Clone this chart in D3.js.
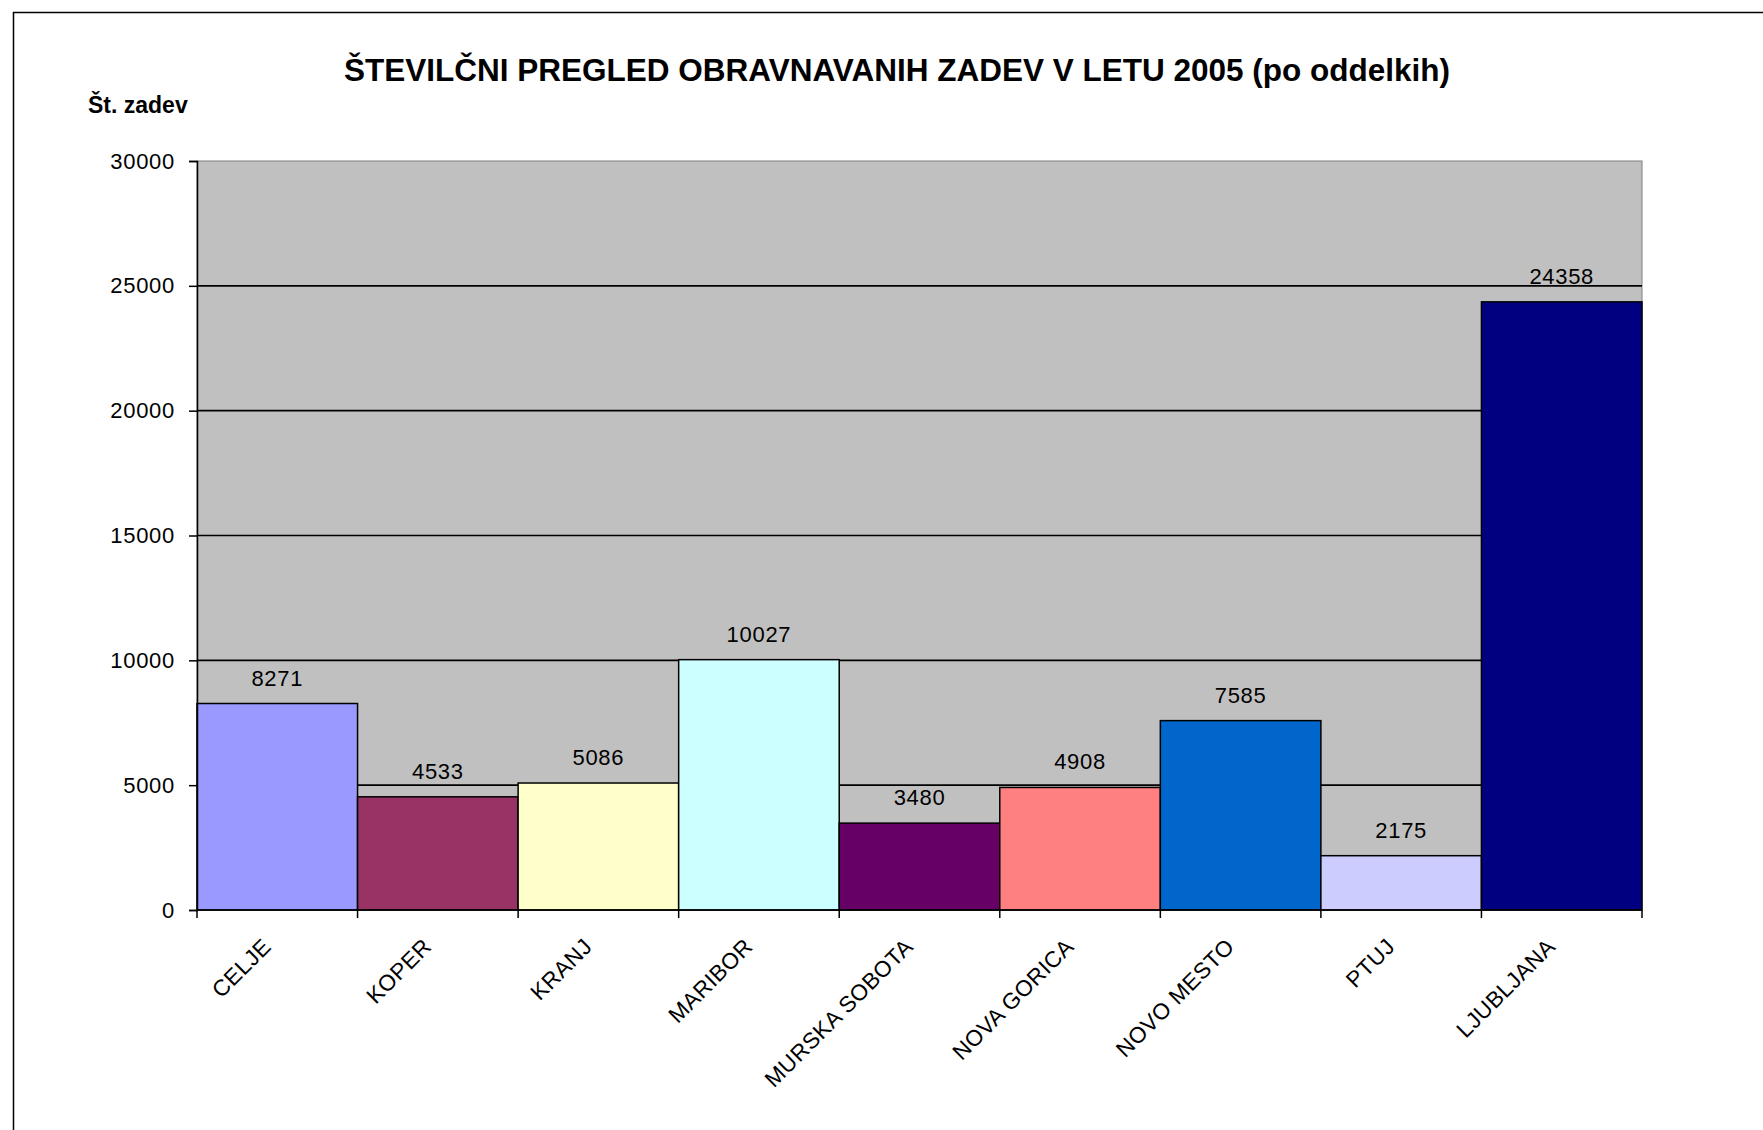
<!DOCTYPE html>
<html>
<head>
<meta charset="utf-8">
<script src="https://cdn.jsdelivr.net/npm/d3@7"></script>
<style>
  body { margin: 0; background: #fff; }
  svg text { font-family: Arial, "Liberation Sans", sans-serif; }
</style>
</head>
<body>
<div id="chart"></div>
<script>
// data
const categories = ['CELJE', 'KOPER', 'KRANJ', 'MARIBOR', 'MURSKA SOBOTA', 'NOVA GORICA', 'NOVO MESTO', 'PTUJ', 'LJUBLJANA'];
const cases = [8271, 4533, 5086, 10027, 3480, 4908, 7585, 2175, 24358];
const barColors = ['#9999ff', '#993366', '#ffffcc', '#ccffff', '#660066', '#ff8080', '#0066cc', '#ccccff', '#000080'];
const yTicks = [0, 5000, 10000, 15000, 20000, 25000, 30000];

const data = categories.map((name, i) => ({ name: name, value: cases[i], color: barColors[i] }));

const W = 1763, H = 1130;
const margin = { top: 161, right: 121, bottom: 220, left: 197 };
const width = W - margin.left - margin.right;
const height = H - margin.top - margin.bottom;

const svg = d3.select('#chart').append('svg')
    .attr('width', W)
    .attr('height', H);

// outer chart frame (runs off the right and bottom of the picture)
svg.append('rect')
    .attr('x', 13.5)
    .attr('y', 12.5)
    .attr('width', W + 20)
    .attr('height', H + 20)
    .attr('fill', '#fff')
    .attr('stroke', '#000')
    .attr('stroke-width', 1.5);

// title + axis label
svg.append('text')
    .attr('x', 897)
    .attr('y', 81)
    .attr('text-anchor', 'middle')
    .style('font-size', '31.5px')
    .style('font-weight', 'bold')
    .text('ŠTEVILČNI PREGLED OBRAVNAVANIH ZADEV V LETU 2005 (po oddelkih)');

svg.append('text')
    .attr('x', 88)
    .attr('y', 113)
    .style('font-size', '23px')
    .style('font-weight', 'bold')
    .text('Št. zadev');

const plot = svg.append('g')
    .attr('transform', `translate(${margin.left},${margin.top})`);

// scales
const yScale = d3.scaleLinear()
    .range([height, 0])
    .domain([0, 30000]);

const xScale = d3.scaleBand()
    .range([0, width])
    .domain(categories)
    .padding(0);

// plot background
plot.append('rect')
    .attr('width', width)
    .attr('height', height)
    .attr('fill', '#c0c0c0')
    .attr('stroke', '#808080')
    .attr('stroke-width', 1);

// gridlines
plot.append('g')
    .selectAll('line')
    .data(yTicks.filter(t => t > 0 && t < 30000))
    .enter()
    .append('line')
    .attr('x1', 0)
    .attr('x2', width)
    .attr('y1', d => yScale(d))
    .attr('y2', d => yScale(d))
    .attr('stroke', '#000')
    .attr('stroke-width', 1.6);

// bars
plot.selectAll('.bar')
    .data(data)
    .enter()
    .append('rect')
    .attr('class', 'bar')
    .attr('x', d => xScale(d.name))
    .attr('y', d => yScale(d.value))
    .attr('width', xScale.bandwidth())
    .attr('height', d => height - yScale(d.value))
    .attr('fill', d => d.color)
    .attr('stroke', '#000')
    .attr('stroke-width', 1.5);

// value labels
plot.selectAll('.value')
    .data(data)
    .enter()
    .append('text')
    .attr('class', 'value')
    .attr('x', d => xScale(d.name) + xScale.bandwidth() / 2)
    .attr('y', d => yScale(d.value) - 18)
    .attr('text-anchor', 'middle')
    .style('font-size', '22px')
    .style('letter-spacing', '0.7px')
    .text(d => d.value);

// y axis
const yAxis = plot.append('g')
    .call(d3.axisLeft(yScale)
        .tickValues(yTicks)
        .tickSize(8)
        .tickPadding(14)
        .tickFormat(d3.format('d')));
yAxis.select('.domain').attr('stroke', '#000').attr('stroke-width', 1.5);
yAxis.selectAll('.tick line').attr('stroke', '#000').attr('stroke-width', 1.5);
yAxis.selectAll('text')
    .style('font-size', '22px')
    .style('letter-spacing', '0.7px')
    .attr('fill', '#000');

// x axis: baseline and ticks at category boundaries
const xAxis = plot.append('g')
    .attr('transform', `translate(0,${height})`);
xAxis.append('line')
    .attr('x1', 0)
    .attr('x2', width)
    .attr('stroke', '#000')
    .attr('stroke-width', 1.5);
const bounds = categories.map(c => xScale(c)).concat([xScale.range()[1]]);
xAxis.selectAll('.xtick')
    .data(bounds)
    .enter()
    .append('line')
    .attr('class', 'xtick')
    .attr('x1', d => d)
    .attr('x2', d => d)
    .attr('y1', 0)
    .attr('y2', 8)
    .attr('stroke', '#000')
    .attr('stroke-width', 1.5);

xAxis.selectAll('.xlabel')
    .data(categories)
    .enter()
    .append('text')
    .attr('class', 'xlabel')
    .attr('transform', d => `translate(${xScale(d) + xScale.bandwidth() / 2 - 5},${38}) rotate(-45)`)
    .attr('text-anchor', 'end')
    .style('font-size', '22.5px')
    .style('letter-spacing', '0.4px')
    .text(d => d);
</script>
</body>
</html>
